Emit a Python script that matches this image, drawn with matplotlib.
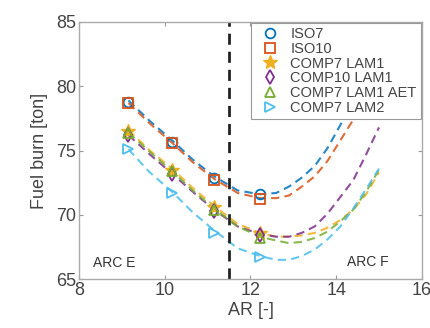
import numpy as np
import matplotlib
matplotlib.use("Agg")
import matplotlib.pyplot as plt

plt.rcParams['font.family'] = ['Liberation Sans', 'DejaVu Sans']

# design points (aspect ratio) and fuel burn for each configuration
ar_pts = [9.15, 10.17, 11.15, 12.22]
iso7 = [78.8, 75.7, 72.9, 71.6]
iso10 = [78.7, 75.6, 72.7, 71.2]
comp7_lam1 = [76.5, 73.5, 70.6, 68.6]
comp10_lam1 = [76.2, 73.2, 70.3, 68.4]
comp7_lam1_aet = [76.4, 73.4, 70.4, 68.2]
comp7_lam2 = [75.1, 71.7, 68.6, 66.7]

# fitted trend curves
ar_fit = [9.15, 9.65, 10.17, 10.65, 11.15, 11.7, 12.22, 12.6, 12.9, 13.2,
          13.5, 13.8, 14.1, 14.4, 14.7, 15.0]
iso7_fit = [78.9, 77.3, 75.8, 74.3, 73.0, 71.9, 71.6, 71.7, 72.2, 72.9,
            73.8, 75.2, 77.0, 78.9, 80.9, 83.0]
iso10_fit = [78.7, 77.1, 75.6, 74.1, 72.8, 71.7, 71.3, 71.3, 71.5, 72.2,
             73.0, 74.2, 75.8, 77.4, 79.2, 81.0]
comp7_lam1_fit = [76.6, 75.0, 73.6, 72.1, 70.7, 69.3, 68.6, 68.3, 68.3, 68.4,
                  68.6, 69.0, 69.6, 70.4, 71.6, 73.3]
comp10_lam1_fit = [76.2, 74.7, 73.2, 71.8, 70.4, 69.1, 68.5, 68.3, 68.3, 68.6,
                   69.1, 70.1, 71.4, 72.7, 74.7, 76.8]
comp7_lam1_aet_fit = [76.4, 74.9, 73.4, 71.9, 70.5, 69.1, 68.3, 68.0, 67.8, 67.9,
                      68.2, 68.7, 69.5, 70.4, 71.8, 73.5]
comp7_lam2_fit = [75.1, 73.3, 71.8, 70.2, 68.8, 67.4, 66.8, 66.5, 66.5, 66.8,
                  67.3, 68.1, 69.1, 70.5, 72.0, 73.6]

labels = ['ISO7', 'ISO10', 'COMP7 LAM1', 'COMP10 LAM1', 'COMP7 LAM1 AET', 'COMP7 LAM2']
colors = ['#0072BD', '#D95319', '#EDB120', '#7E2F8E', '#77AC30', '#4DBEEE']
markers = ['o', 's', '*', 'd', '^', '>']
pts = [iso7, iso10, comp7_lam1, comp10_lam1, comp7_lam1_aet, comp7_lam2]
fits = [iso7_fit, iso10_fit, comp7_lam1_fit, comp10_lam1_fit, comp7_lam1_aet_fit, comp7_lam2_fit]

fig = plt.figure(figsize=(4.3, 3.28), dpi=100)
ax = fig.add_axes([0.184, 0.149, 0.797, 0.784])

for y, c in zip(fits, colors):
    ax.plot(ar_fit, y, color=c, lw=1.5, dashes=(4, 2.5), alpha=0.85)

for y, c, m, lab in zip(pts, colors, markers, labels):
    if m == '*':
        ax.plot(ar_pts, y, m, color=c, ms=10, mew=1.0, label=lab)
    else:
        ax.plot(ar_pts, y, m, mfc='none', mec=c, ms=7, mew=1.3, label=lab)

ax.axvline(11.5, color='#222222', lw=2, dashes=(4, 2.5))

ax.text(8.33, 66.25, 'ARC E', fontsize=10, color='#333333', va='center')
ax.text(14.25, 66.3, 'ARC F', fontsize=10, color='#333333', va='center')

ax.set_xlim(8, 16)
ax.set_ylim(65, 85)
ax.set_xticks([8, 10, 12, 14, 16])
ax.set_yticks([65, 70, 75, 80, 85])
ax.tick_params(direction='in', length=3, width=0.8, top=True, right=True,
               labelsize=13, colors='#999999', labelcolor='#444444', pad=2)
for s in ax.spines.values():
    s.set_color('#aaaaaa')
    s.set_linewidth(1.0)

ax.set_xlabel('AR [-]', fontsize=13, color='#444444', labelpad=2)
ax.set_ylabel('Fuel burn [ton]', fontsize=13, color='#444444', labelpad=6)

leg = ax.legend(loc='upper right', fontsize=10.5, frameon=True, fancybox=False,
                edgecolor='#999999', framealpha=1, borderaxespad=0.05,
                handlelength=2.0, handletextpad=0.4, labelspacing=0.05,
                borderpad=0.3)
leg.get_frame().set_linewidth(0.8)
for t in leg.get_texts():
    t.set_color('#444444')

fig.savefig('out.png', dpi=100)
